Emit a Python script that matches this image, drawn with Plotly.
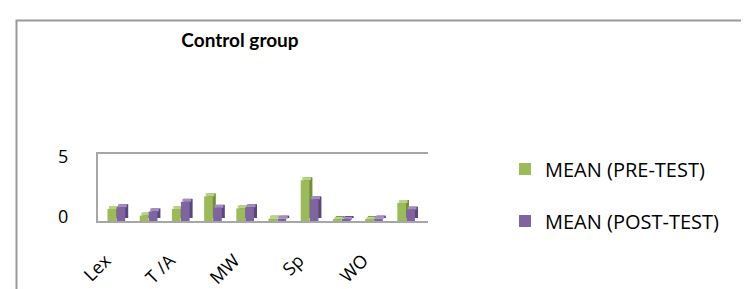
import plotly.graph_objects as go

# ---- data ----
categories = ["Lex", "Prep", "T /A", "Art", "MW", "Pl", "Sp", "SVA", "WO", "Punc"]
tick_labels = ["Lex", "T /A", "MW", "Sp", "WO"]
pre_test = [1.0, 0.45, 1.0, 2.05, 1.05, 0.2, 3.4, 0.1, 0.1, 1.5]
post_test = [1.15, 0.8, 1.6, 1.1, 1.15, 0.2, 1.8, 0.1, 0.2, 0.95]
y_ticks = [0, 5]
series_names = ["MEAN (PRE-TEST)", "MEAN (POST-TEST)"]

# ---- geometry / style ----
W, H = 749, 289
PL, PR, PT, PB = 90, 420, 146, 213     # plot (back wall) box in px
CAT_PX = 32.2                          # px per category
Y_PX = 12.0                            # px per value unit
C0 = 109.5                             # px of first category centre
x_range = [(PL - C0) / CAT_PX, (PR - C0) / CAT_PX]
y_range = [0, (PB - PT) / Y_PX]
dx = 3.0 / CAT_PX                      # 3D depth shift (x)
dy = 3.0 / Y_PX                        # 3D depth shift (y)
bw = 0.27

FONT = "Open Sans"
GRAY = "#A6A6A6"

styles = [
    dict(front="#9BBB59", side="#718F36", top="#B8D384", off=-0.31, legend="legend"),
    dict(front="#8064A2", side="#5B467A", top="#A48CC2", off=-0.03, legend="legend2"),
]

fig = go.Figure()
for vals, name, st in zip([pre_test, post_test], series_names, styles):
    o = st["off"]
    # side face
    fig.add_trace(go.Bar(x=categories, y=vals, base=dy, offset=o + dx, width=bw,
                         marker=dict(color=st["side"], line=dict(width=0)),
                         showlegend=False, hoverinfo="skip"))
    # top face
    fig.add_trace(go.Bar(x=categories, y=[dy] * len(vals), base=vals, offset=o + dx / 2, width=bw,
                         marker=dict(color=st["top"], line=dict(width=0)),
                         showlegend=False, hoverinfo="skip"))
    # front face
    fig.add_trace(go.Bar(x=categories, y=vals, offset=o, width=bw, name=name,
                         marker=dict(color=st["front"], line=dict(width=0)),
                         legend=st["legend"]))

fig.update_layout(
    width=W, height=H,
    margin=dict(l=0, r=0, t=0, b=0),
    paper_bgcolor="white", plot_bgcolor="white",
    barmode="overlay",
    font=dict(family=FONT, size=18, color="black"),
    title=dict(text="Control group", x=232 / W, y=1 - 32 / H, xref="paper", yref="container",
               xanchor="center", yanchor="middle",
               font=dict(family="Lato", size=19, weight="bold", color="black")),
    xaxis=dict(type="category", domain=[PL / W, PR / W], range=x_range,
               tickvals=tick_labels, ticktext=tick_labels, tickangle=-45,
               showline=True, linecolor=GRAY, linewidth=2, mirror=True,
               showgrid=False, zeroline=False, ticks="", ticklabelstandoff=20,
               ticklabelshift=-12,
               tickfont=dict(family=FONT, size=18), automargin=False),
    yaxis=dict(domain=[1 - PB / H, 1 - PT / H], range=y_range, tickvals=y_ticks,
               showline=True, linecolor=GRAY, linewidth=2,
               showgrid=False, zeroline=False, ticks="", ticklabelstandoff=24,
               ticklabelshift=-4, tickfont=dict(family=FONT, size=18), automargin=False),
    legend=dict(x=497 / W, y=1 - 161 / H, xanchor="left", yanchor="middle",
                font=dict(family=FONT, size=20), bgcolor="rgba(0,0,0,0)"),
    legend2=dict(x=497 / W, y=1 - 213 / H, xanchor="left", yanchor="middle",
                 font=dict(family=FONT, size=20), bgcolor="rgba(0,0,0,0)"),
    shapes=[dict(type="rect", xref="paper", yref="paper",
                 x0=8.5 / W, x1=1.1, y0=-0.2, y1=1 - 12.5 / H,
                 line=dict(color="#9A9A9A", width=2), fillcolor="rgba(0,0,0,0)", layer="below")],
)

fig.write_html("out.html")
